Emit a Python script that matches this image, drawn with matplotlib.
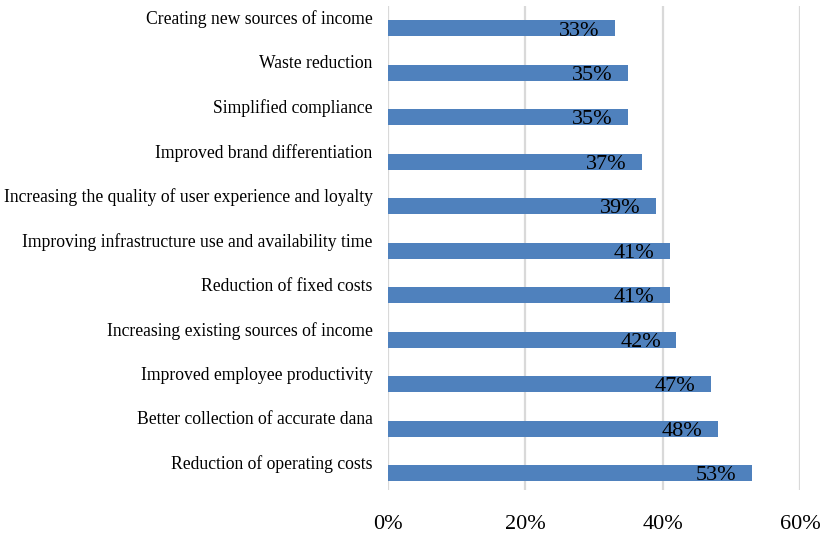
import numpy as np
import matplotlib.pyplot as plt
from matplotlib.transforms import ScaledTranslation

categories = ["Reduction of operating costs",
              "Better collection of accurate dana",
              "Improved employee productivity",
              "Increasing existing sources of income",
              "Reduction of fixed costs",
              "Improving infrastructure use and availability time",
              "Increasing the quality of user experience and loyalty",
              "Improved brand differentiation",
              "Simplified compliance",
              "Waste reduction",
              "Creating new sources of income"]
values = [0.53, 0.48, 0.47, 0.42, 0.41, 0.41, 0.39, 0.37, 0.35, 0.35, 0.33]
xticks = [0, 0.2, 0.4, 0.6]
xtick_labels = ["0%", "20%", "40%", "60%"]

plt.rcParams['font.family'] = ['Liberation Serif', 'DejaVu Serif']

fig = plt.figure(figsize=(8.23, 5.35), dpi=100)
ax = fig.add_axes([388/823, 1 - 490/535, (800 - 388)/823, (490 - 6)/535])

y = np.arange(len(categories))
ax.barh(y, values, height=0.36, color='#4F81BD', zorder=3)

for yi, v in zip(y, values):
    ax.annotate(f"{round(v*100)}%", (v, yi), xytext=(-11, -2),
                textcoords='offset points', ha='right', va='center',
                fontsize=16, zorder=4)

ax.set_xlim(0, 0.6)
ax.set_ylim(-0.38, 10.5)
ax.set_xticks(xticks)
ax.set_xticklabels(xtick_labels, fontsize=16)
ax.set_yticks(y)
ax.set_yticklabels(categories, fontsize=12.7)
ax.tick_params(axis='x', length=0, pad=18)
ax.tick_params(axis='y', length=0, pad=11)

shift = ScaledTranslation(0, 11/100, fig.dpi_scale_trans)
for lab in ax.get_yticklabels():
    lab.set_transform(lab.get_transform() + shift)

ax.grid(axis='x', color='#D9D9D9', linewidth=1.6, zorder=0)
for s in ax.spines.values():
    s.set_visible(False)

fig.savefig('out.png', dpi=100)
